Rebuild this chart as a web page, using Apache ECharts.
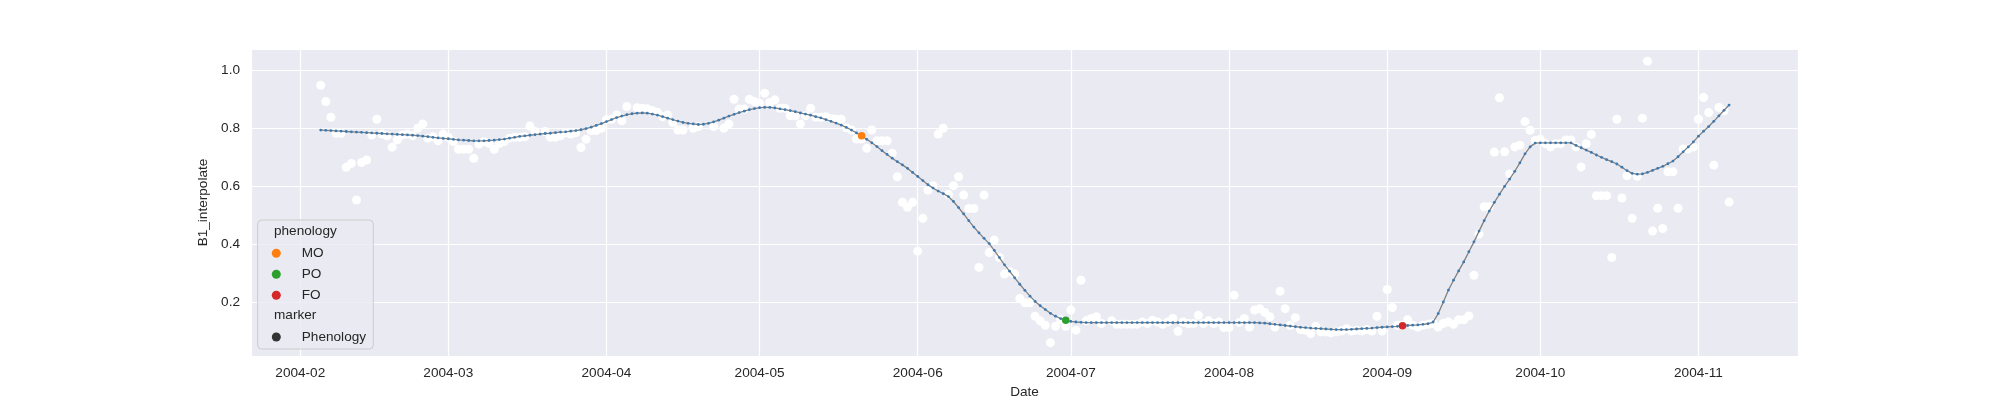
<!DOCTYPE html>
<html>
<head>
<meta charset="utf-8">
<script src="https://cdn.jsdelivr.net/npm/echarts@6/dist/echarts.min.js"></script>
<style>
html, body { margin: 0; background: #fff; }
#chart { width: 2000px; height: 400px; }
</style>
</head>
<body>
<div id="chart"></div>
<script>
// day offsets are counted from 2004-02-01
var lineStartDay = 4;
var lineValues = [
  .794,.793,.792,.791,.790,.789,.788,.787,.786,.785,
  .784,.783,.782,.781,.780,.779,.778,.777,.776,.775,
  .773,.771,.769,.767,.765,.764,.762,.760,.759,.758,
  .757,.757,.757,.758,.759,.761,.763,.766,.769,.772,
  .774,.776,.778,.780,.782,.783,.785,.787,.788,.790,
  .792,.795,.799,.804,.810,.816,.823,.830,.837,.842,
  .847,.850,.852,.853,.852,.849,.845,.840,.835,.830,
  .825,.820,.817,.815,.813,.814,.817,.822,.828,.835,
  .842,.848,.854,.859,.864,.868,.871,.872,.872,.870,
  .867,.864,.861,.857,.853,.849,.845,.840,.836,.830,
  .824,.818,.811,.803,.794,.784,.774,.762,.750,.737,
  .723,.710,.697,.685,.674,.662,.648,.634,.620,.606,
  .594,.584,.575,.565,.548,.527,.505,.482,.460,.440,
  .421,.403,.380,.355,.330,.308,.285,.263,.242,.222,
  .204,.189,.176,.163,.153,.145,.139,.135,.133,.132,
  .131,.131,.131,.131,.131,.131,.131,.131,.131,.131,
  .131,.131,.131,.131,.131,.131,.131,.131,.131,.131,
  .131,.131,.131,.131,.131,.131,.131,.131,.131,.131,
  .131,.131,.131,.131,.130,.129,.127,.125,.123,.121,
  .119,.117,.115,.114,.112,.111,.110,.109,.108,.107,
  .107,.107,.108,.109,.110,.111,.112,.114,.115,.116,
  .117,.118,.120,.121,.122,.123,.125,.127,.133,.162,
  .202,.243,.277,.309,.340,.375,.409,.446,.482,.515,
  .545,.573,.600,.625,.652,.681,.712,.736,.749,.750,
  .750,.750,.750,.750,.750,.750,.741,.733,.725,.717,
  .708,.700,.692,.685,.677,.666,.654,.645,.642,.643,
  .648,.655,.662,.669,.678,.687,.702,.719,.736,.753,
  .773,.790,.806,.824,.843,.862,.880
];

var scatterDays = [
  4,5,6,7,8,9,10,11,12,13,14,15,16,17,18,19,20,21,22,23,24,25,26,27,28,29,30,31,32,33,
  34,35,36,37,38,39,40,41,42,43,44,45,46,48,49,50,51,52,53,54,55,56,57,58,59,60,
  61,62,63,64,66,67,68,69,70,71,72,73,74,75,77,78,81,83,84,85,86,87,88,89,90,
  91,92,93,94,95,96,97,98,99,100,101,102,103,104,105,106,107,108,109,110,
  111,112,113,114,115,116,117,118,119,120,121,122,123,124,125,126,127,128,129,130,
  131,132,133,134,135,136,137,138,139,140,141,142,143,144,145,146,147,148,149,150,
  151,152,153,154,155,156,157,159,160,161,162,163,164,165,166,167,168,169,170,
  171,172,173,174,175,176,177,178,179,180,181,182,183,184,185,186,187,188,189,190,
  191,192,193,194,195,196,197,198,199,200,201,202,203,204,205,206,207,208,209,210,
  211,212,213,214,215,216,217,218,219,220,221,222,223,224,225,226,227,228,229,230,
  231,232,233,234,235,236,237,238,239,240,241,242,243,244,245,246,247,248,249,250,
  251,252,253,254,255,256,257,258,259,260,261,262,263,264,265,266,267,268,269,270,
  271,272,273,274,275,276,277,278,279,280
];
var scatterValues = [
  .948,.892,.838,.783,.783,.666,.679,.553,.682,.691,.777,.831,.780,.774,.735,.760,.777,.780,.774,.800,.815,.766,.771,.757,.780,.769,.754,.728,.728,.728,
  .697,.746,.754,.748,.728,.748,.754,.766,.769,.769,.771,.808,.789,.789,.769,.769,.774,.785,.780,.785,.734,.762,.792,.792,.800,.829,
  .831,.846,.826,.875,.871,.869,.867,.861,.855,.840,.846,.820,.794,.794,.800,.806,.806,.800,.815,.900,.866,.866,.900,.892,.886,
  .921,.889,.898,.869,.869,.843,.843,.815,.843,.869,.838,.838,.840,.834,.831,.831,.802,.794,.763,.763,
  .731,.794,.757,.757,.757,.714,.633,.545,.528,.545,.377,.490,.587,.602,.780,.800,.572,.602,.633,.570,
  .524,.524,.321,.570,.372,.415,.355,.298,.306,.298,.214,.199,.199,.153,.137,.122,.062,.118,.141,.118,
  .174,.105,.277,.137,.145,.151,.128,.137,.125,.125,.125,.125,.125,.133,.128,.139,.133,.125,.133,
  .145,.101,.133,.128,.128,.156,.128,.137,.128,.133,.114,.114,.225,.131,.145,.116,.174,.179,.166,.151,
  .116,.239,.179,.122,.148,.107,.105,.093,.118,.099,.099,.096,.099,.102,.110,.102,.105,.102,.107,.102,
  .153,.102,.245,.183,.122,.122,.141,.122,.116,.122,.125,.128,.116,.128,.133,.125,.141,.141,.154,.294,
  .436,.530,.530,.718,.905,.719,.643,.736,.742,.823,.793,.758,.762,.747,.736,.747,.747,.760,.760,.736,
  .667,.747,.779,.568,.568,.568,.355,.831,.560,.637,.490,.635,.835,1.031,.446,.525,.455,.650,.650,.525,
  .729,.729,.736,.831,.906,.854,.673,.872,.860,.546
];

var phenologyNames = ['MO', 'PO', 'FO'];
var phenologyDays = [110, 150, 216];
var phenologyValues = [.774, .139, .120];
var phenologyColors = ['#ff7f0e', '#2ca02c', '#d62728'];

var DAY = 86400000;
function dayToTime(d) {
  return new Date(2004, 1, 1 + d).getTime();
}
var base = new Date(2004, 1, 1).getTime();

var lineData = lineValues.map(function (v, i) { return [dayToTime(lineStartDay + i), v]; });
var scatterData = scatterDays.map(function (d, i) { return [dayToTime(d), scatterValues[i]]; });

var font = '"Liberation Sans", Arial, sans-serif';
var textColor = '#262626';

var series = [
  {
    name: 'B1',
    type: 'scatter',
    data: scatterData,
    symbol: 'circle',
    symbolSize: 9,
    itemStyle: { color: '#ffffff', opacity: 1 },
    z: 1
  },
  {
    name: 'B1_interpolate',
    type: 'line',
    data: lineData,
    symbol: 'circle',
    symbolSize: 2.8,
    showAllSymbol: true,
    itemStyle: { color: '#3a7ab2', opacity: 1 },
    lineStyle: { color: '#808080', width: 1.3 },
    z: 2
  }
];
phenologyNames.forEach(function (n, i) {
  series.push({
    name: n,
    type: 'scatter',
    data: [[dayToTime(phenologyDays[i]), phenologyValues[i]]],
    symbol: 'circle',
    symbolSize: 7.5,
    itemStyle: { color: phenologyColors[i], opacity: 1 },
    z: 3
  });
});
series.push({
  name: 'Phenology',
  type: 'scatter',
  data: [],
  symbol: 'circle',
  itemStyle: { color: '#333333', opacity: 1 }
});

var legendCommon = {
  orient: 'vertical',
  left: 271.8,
  padding: 0,
  icon: 'circle',
  itemWidth: 9,
  itemHeight: 9,
  itemGap: 0,
  selectedMode: false,
  itemStyle: { opacity: 1 },
  textStyle: {
    color: textColor,
    fontFamily: font,
    fontSize: 13.6,
    lineHeight: 21,
    padding: [0, 0, 0, 16]
  }
};

var chart = echarts.init(document.getElementById('chart'));
chart.setOption({
  animation: false,
  backgroundColor: '#ffffff',
  grid: {
    left: 251,
    right: 202,
    top: 49,
    bottom: 44,
    outerBoundsMode: 'none',
    show: true,
    backgroundColor: '#eaeaf2',
    borderWidth: 0
  },
  xAxis: {
    type: 'time',
    min: base - 9.66 * DAY,
    max: base + 293.5 * DAY,
    splitNumber: 10,
    name: 'Date',
    nameLocation: 'middle',
    nameGap: 28,
    nameTextStyle: { color: textColor, fontFamily: font, fontSize: 13.6 },
    axisLine: { show: false },
    axisTick: { show: false },
    splitLine: { show: true, lineStyle: { color: '#ffffff', width: 1.2 } },
    axisLabel: {
      color: textColor,
      fontFamily: font,
      fontSize: 13.6,
      margin: 10,
      hideOverlap: false,
      formatter: function (v) {
        var d = new Date(v);
        var m = d.getMonth() + 1;
        return d.getFullYear() + '-' + (m < 10 ? '0' + m : m);
      }
    }
  },
  yAxis: {
    type: 'value',
    min: 0.016,
    max: 1.073,
    splitNumber: 5,
    name: 'B1_interpolate',
    nameLocation: 'middle',
    nameGap: 32,
    nameTextStyle: { color: textColor, fontFamily: font, fontSize: 13.6 },
    axisLine: { show: false },
    axisTick: { show: false },
    splitLine: { show: true, lineStyle: { color: '#ffffff', width: 1.2 } },
    axisLabel: {
      color: textColor,
      fontFamily: font,
      fontSize: 13.6,
      margin: 11,
      showMinLabel: false,
      showMaxLabel: false,
      formatter: function (v) { return v.toFixed(1); }
    }
  },
  legend: [
    Object.assign({}, legendCommon, { top: 242.8, data: phenologyNames }),
    Object.assign({}, legendCommon, { top: 326.5, data: ['Phenology'] })
  ],
  graphic: [
    {
      type: 'rect',
      z: 3,
      shape: { x: 257.7, y: 220, width: 115.6, height: 129, r: 4 },
      style: { fill: 'rgba(234,234,242,0.8)', stroke: '#cccccc', lineWidth: 1 }
    },
    {
      type: 'text',
      z: 5,
      style: { text: 'phenology', x: 274, y: 231, verticalAlign: 'middle', fill: textColor, fontFamily: font, fontSize: 13.6 }
    },
    {
      type: 'text',
      z: 5,
      style: { text: 'marker', x: 274, y: 315, verticalAlign: 'middle', fill: textColor, fontFamily: font, fontSize: 13.6 }
    }
  ],
  series: series
});
</script>
</body>
</html>
